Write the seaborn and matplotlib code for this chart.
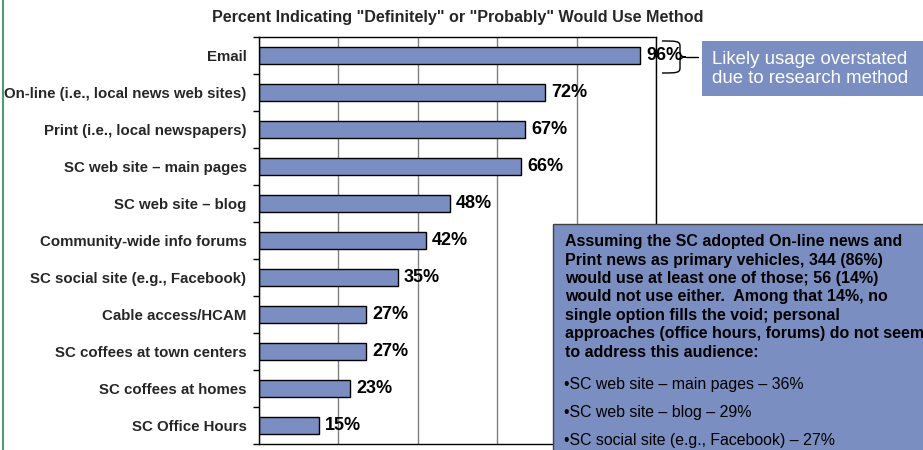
import matplotlib
matplotlib.use("Agg")
import matplotlib.pyplot as plt
from matplotlib.patches import Rectangle, PathPatch
from matplotlib.path import Path
import numpy as np
import pandas as pd
import seaborn as sns

methods = [
    "Email",
    "On-line (i.e., local news web sites)",
    "Print (i.e., local newspapers)",
    "SC web site \u2013 main pages",
    "SC web site \u2013 blog",
    "Community-wide info forums",
    "SC social site (e.g., Facebook)",
    "Cable access/HCAM",
    "SC coffees at town centers",
    "SC coffees at homes",
    "SC Office Hours",
]
pct = [96, 72, 67, 66, 48, 42, 35, 27, 27, 23, 15]

title = 'Percent Indicating "Definitely" or "Probably" Would Use Method'
callout = "Likely usage overstated\ndue to research method"
note = ("Assuming the SC adopted On-line news and\n"
        "Print news as primary vehicles, 344 (86%)\n"
        "would use at least one of those; 56 (14%)\n"
        "would not use either.  Among that 14%, no\n"
        "single option fills the void; personal\n"
        "approaches (office hours, forums) do not seem\n"
        "to address this audience:")
bullets = ["\u2022SC web site \u2013 main pages \u2013 36%",
           "\u2022SC web site \u2013 blog \u2013 29%",
           "\u2022SC social site (e.g., Facebook) \u2013 27%"]

BAR = "#7A8EC2"

sns.set_theme(style="white")
plt.rcParams["font.family"] = ["Liberation Sans", "DejaVu Sans"]

W, H = 923, 450
fig = plt.figure(figsize=(W / 100, H / 100), dpi=100)
fig.patch.set_facecolor("white")


def fx(x):
    return x / W


def fy(y):
    return 1 - y / H


ax = fig.add_axes([fx(259), fy(444), fx(656) - fx(259), fy(37) - fy(444)])
df = pd.DataFrame({"method": methods, "pct": pct})
sns.barplot(data=df, x="pct", y="method", orient="h", color=BAR,
            saturation=1, width=0.46, edgecolor="black", linewidth=1, ax=ax)

ax.set_xlim(0, 100)
ax.set_ylim(len(methods) - 0.5, -0.5)
ax.set_xticks([0, 20, 40, 60, 80, 100])
ax.set_xticklabels([])
ax.tick_params(axis="x", length=0)
ax.xaxis.grid(True, color="#808080", linewidth=1)
ax.set_axisbelow(True)
ax.set_xlabel("")
ax.set_ylabel("")
for s in ax.spines.values():
    s.set_visible(True)
    s.set_color("black")
    s.set_linewidth(1)

ax.tick_params(axis="y", which="major", length=0, pad=9, labelsize=10.8)
for lab in ax.get_yticklabels():
    lab.set_fontweight("bold")
ax.set_yticks(np.arange(-0.5, len(methods) + 0.5, 1), minor=True)
ax.tick_params(axis="y", which="minor", length=4, width=1, color="black",
               left=True, direction="out")

for i, v in enumerate(pct):
    ax.text(v + 1.5, i, f"{v}%", va="center", ha="left", fontsize=13,
            fontweight="bold", color="black")

ax.set_title(title, fontsize=11.6, fontweight="bold", pad=11)

# upper-right callout box with brace
fig.patches.append(Rectangle((fx(702), fy(96)), fx(930) - fx(702), fy(41) - fy(96),
                             transform=fig.transFigure, facecolor=BAR,
                             edgecolor="none", clip_on=False))
fig.text(fx(712), fy(69), callout, fontsize=13.4, color="white",
         ha="left", va="center", linespacing=1.2)

pts = [(662, 41), (676, 41), (680, 41), (680, 46),
       (680, 53),
       (680, 56), (683, 57), (686, 57),
       (683, 57), (680, 58), (680, 61),
       (680, 68),
       (680, 73), (676, 73), (662, 73)]
codes = [Path.MOVETO, Path.CURVE4, Path.CURVE4, Path.CURVE4,
         Path.LINETO,
         Path.CURVE4, Path.CURVE4, Path.CURVE4,
         Path.CURVE4, Path.CURVE4, Path.CURVE4,
         Path.LINETO,
         Path.CURVE4, Path.CURVE4, Path.CURVE4]
brace = Path([(fx(x), fy(y)) for x, y in pts], codes)
fig.patches.append(PathPatch(brace, transform=fig.transFigure, facecolor="none",
                             edgecolor="black", linewidth=1))
fig.lines.append(plt.Line2D([fx(686), fx(698)], [fy(57), fy(57)],
                            transform=fig.transFigure, color="black", linewidth=1))

# lower-right note box
fig.patches.append(Rectangle((fx(553), fy(460)), fx(935) - fx(553), fy(224) - fy(460),
                             transform=fig.transFigure, facecolor=BAR,
                             edgecolor="#404040", linewidth=1, clip_on=False))
fig.text(fx(565), fy(297), note, fontsize=11.5, fontweight="bold", color="black",
         ha="left", va="center", linespacing=1.29)
for k, b in enumerate(bullets):
    fig.text(fx(564), fy(384 + 28 * k), b, fontsize=11.4, color="black",
             ha="left", va="center")

# slide border on the left
fig.lines.append(plt.Line2D([fx(2.5), fx(2.5)], [0, 1], transform=fig.transFigure,
                            color="#4E9A78", linewidth=1.5))

fig.savefig("out.png", dpi=100)
